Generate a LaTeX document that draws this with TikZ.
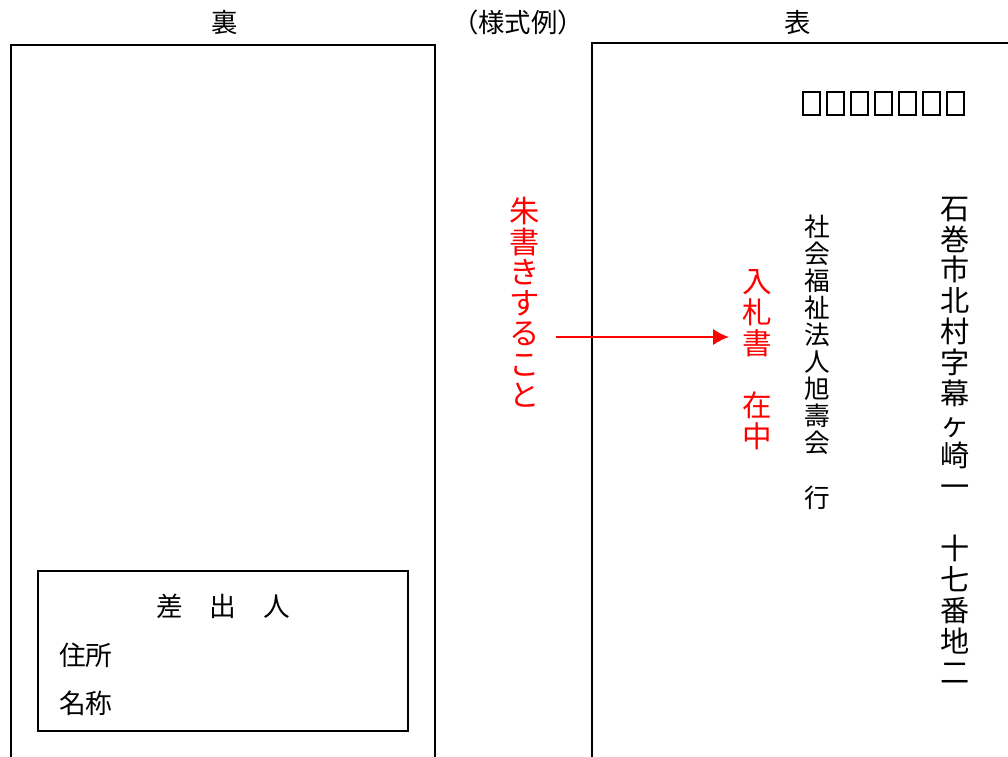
\documentclass[tikz,border=0pt]{standalone}
\usepackage{fontspec}
\setmainfont{Noto Sans CJK JP}
\usetikzlibrary{arrows.meta}
\tikzset{
  midashi/.style={inner sep=0pt, font=\fontsize{7.5}{9}\selectfont},
  moji/.style={inner sep=0pt, font=\fontsize{7.6}{9}\selectfont},
  tate/.style={align=center, inner sep=0pt},
  akaji/.style={text=red},
  akasen/.style={draw=red, line width=0.45pt, -{Latex[length=4.5pt,width=4.6pt]}},
  bangou/.style={line width=0.35pt},
  bangoufuto/.style={line width=0.75pt},
}
\begin{document}
\begin{tikzpicture}[x=0.01cm, y=-0.01cm, line width=0.6pt]
        \useasboundingbox (0,0) rectangle (1008,756);
        \clip (0,0) rectangle (1008,756);

        \node[midashi] (ura) at (225,22) {裏};
        \node[midashi] (yoshiki) at (518,22) {（様式例）};
        \node[midashi] (omote) at (798,22) {表};

        \draw (11,45) rectangle (435,800);
        \draw (592,43) rectangle (1050,800);

        \draw (38,571) rectangle (408,731);
        \node[moji] (sashidashinin) at (223,606) {差　出　人};
        \node[moji, anchor=west] (jusho) at (58,655) {住所};
        \node[moji, anchor=west] (meisho) at (58,703) {名称};

        \foreach \i in {0,1,2}
          \draw[bangoufuto] (803+24*\i,92) rectangle +(17,23);
        \foreach \i in {3,...,6}
          \draw[bangou] (803+24*\i,92) rectangle +(17,23);

        \node[tate, font=\fontsize{8.3}{8.8}\selectfont] (atesaki) at (955,440)
          {石\\巻\\市\\北\\村\\字\\幕\\ヶ\\崎\\一\\　\\十\\七\\番\\地\\二};
        \node[tate, font=\fontsize{7.3}{7.7}\selectfont] (atena) at (817,362)
          {社\\会\\福\\祉\\法\\人\\旭\\壽\\会\\　\\行};
        \node[tate, akaji, font=\fontsize{8.4}{8.8}\selectfont] (nyusatsu) at (757,360)
          {入\\札\\書\\　\\在\\中};
        \node[tate, akaji, font=\fontsize{8.6}{8.7}\selectfont] (shugaki) at (525,302)
          {朱\\書\\き\\す\\る\\こ\\と};

        \coordinate (yajirimoto) at (556,337);
        \draw[akasen, shorten >=3.5pt] (yajirimoto) -- (nyusatsu.west |- yajirimoto);
      \end{tikzpicture}
\end{document}
